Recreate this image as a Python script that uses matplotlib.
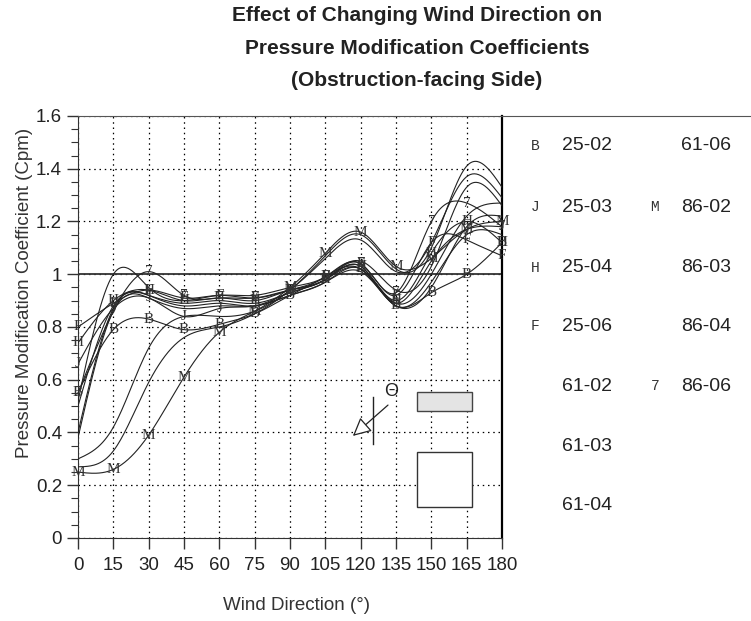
import numpy as np
import matplotlib.pyplot as plt
from matplotlib.patches import Rectangle
from matplotlib.ticker import MultipleLocator, FuncFormatter

# wind direction (deg) and Cpm
angles = [0, 15, 30, 45, 60, 75, 90, 105, 120, 135, 150, 165, 180]

cpm_25_02 = [0.55, 0.79, 0.83, 0.79, 0.81, 0.85, 0.92, 0.99, 1.02, 0.88, 0.93, 1.00, 1.12]
cpm_25_03 = [0.66, 0.87, 0.91, 0.84, 0.87, 0.88, 0.93, 0.98, 1.03, 0.89, 1.05, 1.17, 1.18]
cpm_25_04 = [0.74, 0.90, 0.94, 0.90, 0.91, 0.90, 0.94, 0.98, 1.03, 0.90, 1.08, 1.20, 1.12]
cpm_25_06 = [0.80, 0.89, 0.94, 0.91, 0.92, 0.91, 0.94, 0.99, 1.04, 0.92, 1.12, 1.13, 1.07]
cpm_61_02 = [0.50, 0.88, 0.92, 0.89, 0.90, 0.89, 0.93, 0.98, 1.02, 0.89, 1.00, 1.22, 1.27]
cpm_61_03 = [0.40, 0.87, 0.92, 0.88, 0.89, 0.88, 0.92, 0.97, 1.02, 0.88, 0.97, 1.15, 1.15]
cpm_61_04 = [0.38, 0.86, 0.91, 0.87, 0.88, 0.88, 0.92, 0.97, 1.01, 0.88, 0.95, 1.18, 1.22]
cpm_61_06 = [0.52, 1.00, 0.95, 0.90, 0.92, 0.92, 0.95, 0.99, 1.05, 0.94, 1.03, 1.33, 1.26]
cpm_86_02 = [0.25, 0.26, 0.39, 0.61, 0.78, 0.86, 0.95, 1.08, 1.16, 1.03, 1.06, 1.17, 1.20]
cpm_86_03 = [0.27, 0.33, 0.59, 0.76, 0.80, 0.85, 0.94, 1.07, 1.15, 1.02, 1.10, 1.41, 1.33]
cpm_86_04 = [0.30, 0.42, 0.72, 0.84, 0.84, 0.86, 0.94, 1.06, 1.13, 1.01, 1.12, 1.37, 1.29]
cpm_86_06 = [0.55, 0.86, 1.01, 0.92, 0.91, 0.91, 0.94, 0.98, 1.04, 0.93, 1.20, 1.27, 1.18]

names = ["25-02", "25-03", "25-04", "25-06", "61-02", "61-03", "61-04",
         "61-06", "86-02", "86-03", "86-04", "86-06"]
symbols = ["B", "J", "H", "F", "", "", "", "", "M", "", "", "7"]
series = [cpm_25_02, cpm_25_03, cpm_25_04, cpm_25_06, cpm_61_02, cpm_61_03, cpm_61_04,
          cpm_61_06, cpm_86_02, cpm_86_03, cpm_86_04, cpm_86_06]


def smooth(x, y, num=400):
    # natural cubic spline through the points, for drawing only
    x = np.asarray(x, float)
    y = np.asarray(y, float)
    n = len(x)
    h = np.diff(x)
    A = np.zeros((n, n))
    b = np.zeros(n)
    A[0, 0] = 1
    A[-1, -1] = 1
    for i in range(1, n - 1):
        A[i, i - 1] = h[i - 1]
        A[i, i] = 2 * (h[i - 1] + h[i])
        A[i, i + 1] = h[i]
        b[i] = 6 * ((y[i + 1] - y[i]) / h[i] - (y[i] - y[i - 1]) / h[i - 1])
    m = np.linalg.solve(A, b)
    xs = np.linspace(x[0], x[-1], num)
    k = np.clip(np.searchsorted(x, xs) - 1, 0, n - 2)
    t0 = xs - x[k]
    t1 = x[k + 1] - xs
    hk = h[k]
    ys = (m[k] * t1 ** 3 + m[k + 1] * t0 ** 3) / (6 * hk) \
        + (y[k] / hk - m[k] * hk / 6) * t1 + (y[k + 1] / hk - m[k + 1] * hk / 6) * t0
    return xs, ys


plt.rcParams["font.family"] = ["Liberation Sans", "DejaVu Sans"]

fig = plt.figure(figsize=(7.51, 6.21), dpi=100)
ax = fig.add_axes([78 / 751, 83 / 621, 424 / 751, 422 / 621])

for vals, sym in zip(series, symbols):
    xs, ys = smooth(angles, vals)
    ax.plot(xs, ys, color="#222222", lw=0.8, zorder=3)
    if sym:
        for a, v in zip(angles, vals):
            ax.text(a, v, sym, ha="center", va="center", fontsize=11,
                    family="Liberation Serif", color="#333333", zorder=4)

ax.set_xlim(0, 180)
ax.set_ylim(0, 1.6)
ax.xaxis.set_major_locator(MultipleLocator(15))
ax.yaxis.set_major_locator(MultipleLocator(0.2))
ax.yaxis.set_minor_locator(MultipleLocator(0.05))
ax.yaxis.set_major_formatter(FuncFormatter(lambda v, p: "%g" % round(v, 2)))
ax.tick_params(axis="both", which="major", length=8, width=1, labelsize=13.5,
               color="#333333", labelcolor="#222222")
ax.tick_params(axis="y", which="minor", length=5, width=0.8, color="#333333")
ax.tick_params(axis="x", pad=6)
ax.grid(True, which="major", color="black", linestyle=(0, (1.2, 3)), lw=0.9)
ax.axhline(1.0, color="#333333", lw=1.3, zorder=2)
for side in ["left", "bottom"]:
    ax.spines[side].set_color("#333333")
ax.spines["top"].set_color("#555555")
ax.spines["right"].set_linewidth(1.6)

ax.set_xlabel("Wind Direction (°)", fontsize=13.5, color="#333333")
ax.xaxis.set_label_coords(0.515, -0.14)
ax.set_ylabel("Pressure Modification Coefficient (Cpm)", fontsize=13.5, color="#333333")
ax.yaxis.set_label_coords(-0.106, 0.58)

# little sketch: wind arrow and buildings
ax.annotate("", xy=(116.7, 0.387), xytext=(131.6, 0.504),
            arrowprops=dict(arrowstyle="-|>", fc="white", ec="#222222", lw=0.9,
                            mutation_scale=28, shrinkA=0, shrinkB=0))
ax.plot([125.2, 125.2], [0.356, 0.535], color="#222222", lw=1)
ax.text(132.9, 0.555, "Θ", fontsize=13, ha="center", va="center", color="#222222")
ax.add_patch(Rectangle((143.9, 0.481), 23.3, 0.072, fc="#e4e4e4", ec="#444444", lw=1, zorder=3))
ax.add_patch(Rectangle((143.9, 0.117), 23.3, 0.209, fc="white", ec="#333333", lw=1, zorder=3))

# legend panel on the right
lax = fig.add_axes([502 / 751, 83 / 621, 249 / 751, 422 / 621])
lax.set_xlim(0, 1)
lax.set_ylim(0, 1)
lax.set_xticks([])
lax.set_yticks([])
for side in ["left", "right", "bottom"]:
    lax.spines[side].set_visible(False)
lax.spines["top"].set_color("#555555")
lax.patch.set_alpha(0)

rows = [0.929, 0.784, 0.640, 0.502, 0.360, 0.218, 0.076]
for i, (name, sym) in enumerate(zip(names, symbols)):
    if i < 7:
        y = rows[i]
        xm, xl = 0.133, 0.241
    else:
        y = rows[i - 7]
        xm, xl = 0.614, 0.719
    if sym:
        lax.text(xm, y, sym, ha="center", va="center", fontsize=10.5,
                 family="Liberation Mono", color="#333333")
    lax.text(xl, y, name, ha="left", va="center", fontsize=14, color="#222222")

fig.text(417 / 751, 1 - 6 / 621,
         "Effect of Changing Wind Direction on\nPressure Modification Coefficients\n(Obstruction-facing Side)",
         ha="center", va="top", fontsize=15, fontweight="bold", linespacing=1.9, color="#222222")

fig.savefig("out.png", dpi=100)
